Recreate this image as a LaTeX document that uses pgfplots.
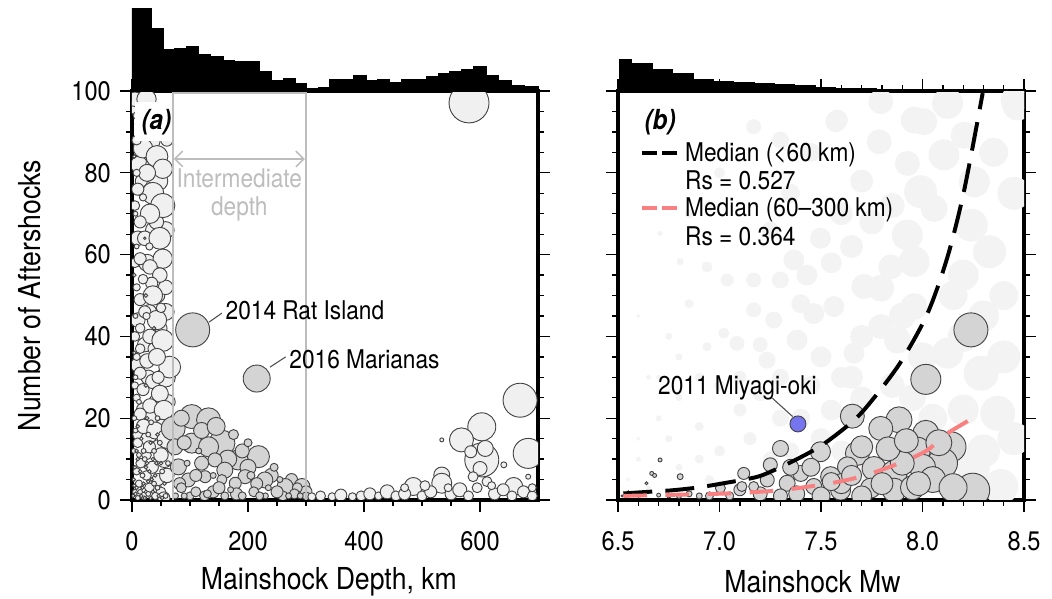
\documentclass[border=0pt]{standalone}
\usepackage{fontspec}
\setmainfont{TeX Gyre Heros}[FakeStretch=0.88]
\usepackage{pgfplots}
\pgfplotsset{compat=1.18}
\usetikzlibrary{arrows.meta}

\definecolor{shfill}{HTML}{F0F0F0}
\definecolor{imfill}{HTML}{D4D4D4}
\definecolor{bgfaint}{HTML}{F3F3F3}
\definecolor{edge}{HTML}{444444}
\definecolor{boxgray}{HTML}{BDBDBD}
\definecolor{pinkline}{HTML}{F88080}
\definecolor{miyagi}{HTML}{7575F0}

\newcommand{\ticksize}{\fontsize{10.2}{12}\selectfont}
\newcommand{\labsize}{\fontsize{11.5}{13}\selectfont}
\newcommand{\annsize}{\fontsize{9.8}{11.5}\selectfont}

\pgfplotsset{
  panel/.style={
    scale only axis, width=154.3pt, height=155.4pt,
    ymin=0, ymax=100, ytick={0,20,...,100}, minor y tick num=3,
    tick align=outside,
    major tick length=4.5pt, minor tick length=2.2pt,
    tick style={black, line width=0.5pt},
    axis line style={line width=1.4pt},
    clip marker paths=true,
    tick label style={font=\ticksize},
    label style={font=\labsize},
    /pgf/number format/assume math mode=true,
    xticklabel style={yshift=-4pt},
  },
  hist/.style={
    scale only axis, width=154.3pt, height=32.68pt,
    ymin=0, ymax=86, hide axis, clip=false,
  },
  % #1 outline, #2 fill, #3 pt per size unit
  bub/.style n args={3}{
    scatter, only marks, mark=*,
    scatter/use mapped color={draw=#1, fill=#2},
    visualization depends on={#3*\thisrow{r} \as \rr},
    scatter/@pre marker code/.append style={/tikz/mark size=\rr},
    mark options={line width=0.35pt},
  },
}

\begin{document}
\begin{tikzpicture}

% ---------------- (a) depth panel ----------------
\begin{axis}[panel, at={(0pt,0pt)}, anchor=south west,
  xmin=0, xmax=700, xtick={0,200,...,600}, minor x tick num=3,
  xlabel={Mainshock Depth, km}, ylabel={Number of Aftershocks},
  xlabel style={at={(axis description cs:0.485,-0.2)}, anchor=center},
  ylabel style={at={(axis description cs:-0.251,0.5)}, anchor=center},
]
% shallow events
\addplot[bub={edge}{shfill}{0.46}] table {
x y r
10 96 7
35 95 7
50 92 6
30 88 9
12 82 7
45 78 8
22 76 7
58 66 7
10 64 6
38 66 7
26 58 7
44 50 6
58 46 7
10 44 6
30 46 6
50 42 5
22 38 6
38 37 5
58 30 8
10 33 6
28 30 6
44 24 7
20 22 6
36 20 7
52 18 6
12 16 5
28 15 6
46 13 6
62 24 6
5 58 4
5 72 4
5 40 4
5 28 3
60 88 5
58 52 6
26 92 5
42 68 6
16 78 5
34 82 5
56 10 7
40 3 5
25 11 4
8 35 3
5 98 6
25 98 8
14 92 4
8 94 3
19 86 8
43 84 9
53 81 8
26 80 7
36 75 9
53 72 10
19 74 3
31 70 8
14 68 5
22 64 6
48 64 9
53 59 8
14 59 5
31 57 6
48 55 6
34 53 5
19 54 4
14 49 5
36 50 8
22 46 5
43 44 8
14 42 4
31 40 6
53 39 9
65 32.5 9
14 37 4
26 34 6
43 35 7
14 31 5
36 29 6
19 27 5
48 26 7
31 23 6
14 21 5
8 88 4
8 80 3
10 76 5
40 90 6
30 62 3
8 62 2
25 45 3
50 47 4
8 52 3
45 30 5
55 22 8
8 25 3
20 18 6
40 17 7
60 15 8
10 14 4
30 13 5
50 11 6
15 9 4
35 8 5
8 7 3
25 6 4
45 5 5
60 6 6
12 4 3
30 3 4
50 2 4
5 2 2
20 1 3
40 1 3
55 0.5 5
3 12 2
12 11 2
22 10 2
28 16 2
38 12 2
48 14 2
6 17 2
16 15 1.5
33 19 2
44 20 2
5 8 1.5
18 6 2
26 9 1.5
38 4 2
52 7 2
8 3 1.5
14 2 2
24 2 1.5
34 5 1.5
44 3 2
58 1 2
3 5 1.5
10 10 1.5
20 4 1.5
30 7 1.5
42 9 1.5
62 9 2
4 20 2
12 24 2
6 30 2
4 36 1.5
6 45 2
4 55 1.5
6 70 2
4 84 1.5
24 28 1.5
38 42 1.5
24 50 1.5
22 64 1
16 92 2
2 1 1.5
6 1.5 1.5
10 0.5 2
16 1 1.5
22 0.5 1.5
28 1.5 2
32 0.5 1.5
36 2 1.5
46 1 1.5
52 0.5 1.5
4 3.5 1.5
18 3 1.5
28 4.5 1.5
40 6 1.5
56 4 1.5
14 7 1.5
24 8 1.5
36 10 1.5
50 9 1.5
8 12 1.5
20 12 2
32 14 1.5
44 16 1.5
56 17 2
10 18 1.5
26 20 1.5
};
% intermediate-depth events
\addplot[bub={edge}{imfill}{0.38}] table {
x y r
104.6 41.6 17
215 29.7 13.5
103 20.4 12
132 19.6 12
71 17.5 12
155 13.9 13
103 13.9 10
132 13 10
218 10.6 11
183 9.8 10
85 20 8
120 17 8
145 18 9
165 10 9
190 12 7
200 8 8
240 6 7
275 5 6
74 13 8
80 8.1 8
143 9.8 7
120 9 7
160 7.3 8
229 4.9 8
264 3.3 8
293 3.3 8
195 5.7 7
97 4.9 7
126 5.7 6
178 4.1 6
300 2 6
110 6 6
90 14 7
82 4 6
140 2 6
180 1.5 6
260 1 5
215 4 6
155 5 5
125 1 5
100 1 4
285 3 5
250 2 6
280 1.5 5
210 2 5
150 3 6
110 2 5
85 3 5
90 1 3
130 1.5 4
160 1 4
190 1 4
230 1 3
270 1 3
300 1 4
75 1 3
170 2.5 3
140 6 3
115 12 3
95 9 3
200 14 4
175 16 5
245 8 4
255 5 3
220 1 4
205 6 4
235 3 3
290 1 3
};
% deep events
\addplot[bub={edge}{shfill}{0.38}] table {
x y r
581 97.1 20
669 24.4 17
683 11.4 15
603 17.9 14
568 14.7 12
603 9.8 17
609 12.6 8
584 11.8 6
600 7.7 7
534 14.7 2
641 8.6 3
683 5.7 2.5
534 6.1 8
534 4.1 10
485 3.3 9
658 3.3 9
588 5.7 5
612 4.5 5
310 0.8 4
325 1 5
345 0.8 4
360 1.2 6
380 0.8 4
395 1 5
410 1.5 6
425 1 4
440 2 7
455 1 5
470 1.5 6
500 1 5
515 2 6
550 1.5 6
565 2.5 7
580 1 5
625 1.5 6
640 2.5 6
655 1 5
675 2 6
690 1 5
470 3 4
505 3.5 5
545 3 4
595 3 5
620 3.5 4
690 3 4
};
\node[fill=white, inner sep=2.5pt, font=\fontsize{10.5}{12}\selectfont\bfseries\itshape] at (axis cs:42,92.5) {(a)};
\draw[boxgray, line width=0.7pt] (axis cs:70,0) -- (axis cs:70,99.5) -- (axis cs:300,99.5) -- (axis cs:300,0);
\draw[boxgray, line width=0.6pt, {Straight Barb[length=3pt]}-{Straight Barb[length=3pt]}] (axis cs:72,83.4) -- (axis cs:298,83.4);
\node[boxgray, font=\annsize, align=center] at (axis cs:185,74.6) {Intermediate\\[-1pt]depth};
\draw[black!70, line width=0.4pt] (axis cs:132.8,43.5) -- (axis cs:155,45.7);
\node[anchor=west, font=\annsize, inner sep=1pt] at (axis cs:156,46.3) {2014 Rat Island};
\draw[black!70, line width=0.4pt] (axis cs:238,32.5) -- (axis cs:265,35);
\node[anchor=west, font=\annsize, inner sep=1pt] at (axis cs:266,34.4) {2016 Marianas};
\end{axis}

% ---------------- (b) magnitude panel ----------------
\begin{axis}[panel, at={(184.7pt,0pt)}, anchor=south west,
  xmin=6.5, xmax=8.5, xtick={6.5,7,7.5,8,8.5}, minor x tick num=4,
  xticklabel style={/pgf/number format/.cd, fixed, fixed zerofill, precision=1},
  yticklabels={},
  xlabel={Mainshock Mw},
  xlabel style={at={(axis description cs:0.479,-0.2)}, anchor=center},
]
% shallow events in the background
\addplot[bub={bgfaint}{bgfaint}{0.38}] table {
x y r
8.45 97.8 13
7.794 97.4 12
7.572 92.5 10
8.006 92.5 13
8.123 97 15
7.786 87.6 12
7.925 82.3 12
8.105 84.4 15
8.205 89.2 13
8.255 77.8 15
7.99 75.4 16
8.057 71.3 13
8.24 67.2 16
8.33 60.7 16
7.925 64.8 15
7.958 58.3 15
7.794 51.8 13
8.469 96.6 15
7.497 64 10
7.43 55 10
7.168 91.3 7
7.58 92.9 10
7.958 92.9 13
6.938 57 5
6.806 58.3 3
6.707 65.2 2
7.037 53.8 6
7.168 53.8 7
7.3 53.8 8
7.366 58.7 10
7.464 45.6 10
7.267 44 8
7.168 46.5 7
7.02 40.8 5
6.938 37.5 4
7.086 38.3 7
7.234 34.2 8
7.382 39.1 10
7.563 47.3 10
7.711 52.2 12
7.843 57 12
7.794 42.4 12
7.662 35.9 10
7.876 39.1 13
7.958 47.3 13
8.123 35.9 15
8.288 31 17
8.37 21.2 17
8.386 3.3 17
8.3 45 15
8.4 50 14
8.15 50 14
7.6 70 11
7.7 78 11
7.35 75 9
7.25 66 8
6.95 72 5
6.85 48 4
6.75 40 3
6.65 30 2
6.6 45 1.5
6.7 20 2.5
6.8 25 3
6.9 18 4
7.0 28 5
7.1 22 6
7.2 26 7
7.3 30 8
7.45 28 9
7.55 22 10
7.6 30 10
7.7 25 11
7.85 28 12
7.95 25 13
8.05 20 14
8.2 22 15
8.1 5 15
8.3 12 16
7.9 5 13
7.7 6 12
7.5 15 10
7.4 20 9
7.6 12 10
7.0 12 5
6.9 10 4
6.8 8 3
6.6 10 2
6.55 5 1.5
6.6 15 1.5
6.65 3 2
7.15 15 6
7.25 10 7
7.3 20 8
7.5 35 10
7.7 40 11
7.9 45 13
8.0 35 14
8.2 40 15
8.4 35 16
8.45 75 16
8.45 15 16
7.8 15 12
7.65 30 11
8.35 85 14
8.2 55 15
8.0 10 14
7.2 38 7
7.1 30 6
6.9 30 4
6.8 35 3
7.4 48 9
7.55 58 10
7.65 62 11
7.75 68 12
7.85 72 12
7.45 85 9
7.3 88 8
7.0 80 5
6.85 70 4
7.8 5 12
8.25 8 16
7.35 12 8
6.95 5 4
6.75 15 3
6.7 30 2
};
% intermediate-depth events
\addplot[bub={edge}{imfill}{0.38}] table {
x y r
8.238 41.6 17
8.016 29.5 15
7.654 20.5 12
7.884 19.6 13
7.794 17.5 12
8.016 16.3 13
8.14 13 15
7.975 12.2 13
8.098 9 15
8.247 2.4 17
7.497 11.8 10
7.3 12.6 8
7.25 8.6 7
7.119 6.5 6
7.679 11.4 12
7.761 7.7 12
7.86 6.5 13
7.63 8.1 10
7.547 5.7 10
7.4 6.5 8
7.235 4.9 7
7.333 4.1 8
7.464 3.3 8
7.596 2.4 10
7.744 2.9 10
7.86 2.4 12
7.95 3 12
8.0 8 13
7.45 8 9
7.6 4 10
7.7 13 11
7.9 9 12
8.05 5 13
8.15 3 14
7.8 4 11
7.65 6 10
7.35 8 8
8.08 14 13
7.98 4 12
7.7 1 10
7.5 1 9
7.38 1.5 8
7.2 1.5 7
7.1 2.5 6
7.004 2.9 5
7.11 3.3 5
7.168 3.3 5
6.95 1 4
6.806 5.7 3
6.707 9.8 2
6.666 6.5 2
6.68 6 2
6.64 4.1 1.5
6.9 1 3
6.85 1.5 3
6.8 1 2.5
6.75 1 2
6.7 1.2 2
6.6 1 1.5
6.55 2 1
6.52 1 1
7.05 1 4
7.3 1 7
7.55 4.5 9
7.83 12.5 12
7.92 14.5 12
};
% 2011 Miyagi-oki
\addplot[bub={edge}{miyagi}{0.38}] table {
x y r
7.386 18.6 8
};
% medians
\addplot[black, line width=1.5pt, smooth, dash pattern=on 11pt off 5pt] coordinates {
(6.526,1.6) (6.65,2.0) (6.773,2.4) (6.9,3.1) (7.02,4.1) (7.1,4.8) (7.201,5.9)
(7.333,8.8) (7.498,13.2) (7.662,19.5) (7.761,25.0) (7.893,33.8) (8.024,45.6)
(8.123,59.5) (8.205,75.8) (8.296,99.5)
};
\addplot[pinkline, line width=1.5pt, smooth, dash pattern=on 9pt off 7pt] coordinates {
(6.526,1.0) (6.8,1.3) (7.037,1.6) (7.3,2.4) (7.547,4.1) (7.695,5.7) (7.794,7.3)
(7.925,9.8) (8.024,12.2) (8.123,16.3) (8.23,19.6) (8.271,22)
};
\node[font=\fontsize{10.5}{12}\selectfont\bfseries\itshape] at (axis cs:6.707,92.5) {(b)};
\draw[black, line width=1.5pt, dash pattern=on 5.5pt off 2pt] (axis cs:6.62,84.8) -- (axis cs:6.81,84.8);
\node[anchor=west, font=\annsize, inner sep=1pt] at (axis cs:6.815,84.4) {Median (<60 km)};
\node[anchor=west, font=\annsize, inner sep=1pt] at (axis cs:6.815,78.2) {Rs = 0.527};
\draw[pinkline, line width=1.5pt, dash pattern=on 5.5pt off 2pt] (axis cs:6.62,71.4) -- (axis cs:6.81,71.4);
\node[anchor=west, font=\annsize, inner sep=1pt] at (axis cs:6.815,70.9) {Median (60--300 km)};
\node[anchor=west, font=\annsize, inner sep=1pt] at (axis cs:6.815,64.5) {Rs = 0.364};
\draw[black!70, line width=0.4pt] (axis cs:7.26,24.9) -- (axis cs:7.36,20.4);
\node[font=\annsize] at (axis cs:7.088,27.4) {2011 Miyagi-oki};
\end{axis}

% ---------------- histograms ----------------
\begin{axis}[hist, at={(0pt,155.4pt)}, anchor=south west, xmin=0, xmax=700]
\addplot[fill=black, draw=black, line width=0.3pt, const plot] coordinates {
(0,82.7) (33.6,62.7) (53.7,41.7) (73.9,42.7) (94,45) (115,37) (135,34.3)
(157,30.3) (177,29.3) (219,19.3) (241,10.3) (261,12.7) (281,7.7) (301,2.7)
(321,3.7) (341,12) (363,12) (381,16) (404,11) (423,11.7) (444,8.3) (465,12)
(485,12) (507,14.3) (528,17.7) (548,20) (568,22) (588,25) (611,16) (631,11)
(654,5.7) (677,4.3) (700,0)
} \closedcycle;
\end{axis}
\begin{axis}[hist, at={(184.7pt,155.4pt)}, anchor=south west, xmin=6.5, xmax=8.5]
\addplot[fill=black, draw=black, line width=0.3pt, const plot] coordinates {
(6.505,31.7) (6.568,27.3) (6.671,21.7) (6.77,17.3) (6.872,11.7) (6.97,10)
(7.07,8.3) (7.17,7.3) (7.27,6.7) (7.37,5.7) (7.47,4) (7.57,3) (7.67,2.5)
(7.77,2) (7.87,1.5) (7.97,1) (8.07,0.8) (8.17,0.5) (8.27,0)
} \closedcycle;
\end{axis}

\pgfresetboundingbox
\path (-50.16pt,-37.62pt) rectangle (349.6pt,190pt);
\end{tikzpicture}
\end{document}
